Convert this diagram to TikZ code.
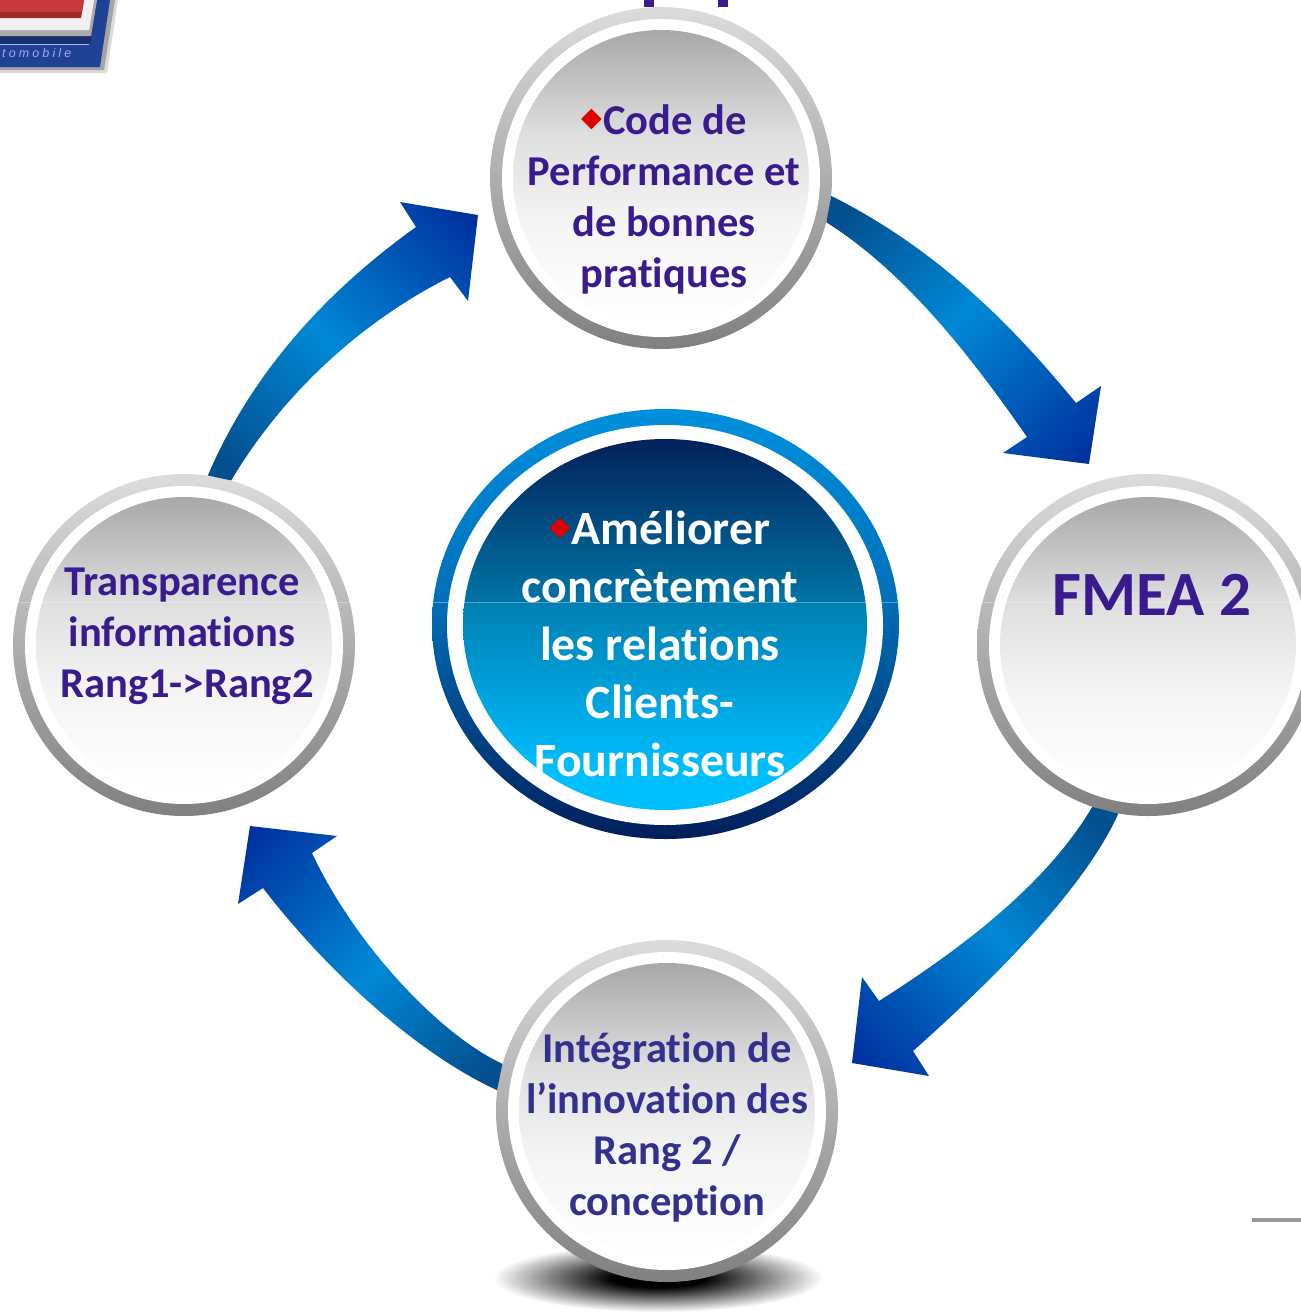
\documentclass[tikz,border=0pt]{standalone}
\usepackage{fontspec}
\setmainfont[Ligatures=NoCommon]{Carlito}
\newfontfamily\symfont{DejaVu Sans}
\newfontfamily\logofont[LetterSpace=25]{Liberation Sans}
\usetikzlibrary{shapes.geometric,calc}
\definecolor{ptxt}{HTML}{3A1A8F}
\definecolor{ptxtb}{HTML}{33308F}
\definecolor{mark}{HTML}{DD0000}
\definecolor{rt}{HTML}{DCDCDC}\definecolor{rb}{HTML}{808080}
\definecolor{s1}{HTML}{A8A8A8}\definecolor{s2}{HTML}{DEDEDE}\definecolor{s4}{HTML}{F5F5F5}
\definecolor{ar1}{HTML}{0033A0}\definecolor{ar2}{HTML}{0088D6}\definecolor{ar3}{HTML}{044F8E}
\definecolor{c1}{HTML}{0090DD}\definecolor{c2}{HTML}{006FB8}\definecolor{c3}{HTML}{001F5B}
\definecolor{d1}{HTML}{02215A}\definecolor{d2}{HTML}{0074A5}\definecolor{d3}{HTML}{0080B4}\definecolor{d4}{HTML}{00BFFF}
\definecolor{logoblue}{HTML}{1F4294}\definecolor{logonavy}{HTML}{17306F}
\definecolor{logored}{HTML}{C8393B}\definecolor{logodred}{HTML}{9E2A2A}
\pgfdeclareverticalshading{ringshade}{100bp}{color(0bp)=(rb);color(25bp)=(rb);color(75bp)=(rt);color(100bp)=(rt)}
\pgfdeclareverticalshading{sphereshade}{100bp}{color(0bp)=(white);color(25bp)=(white);color(42bp)=(s4);color(57.5bp)=(s2);color(75bp)=(s1);color(100bp)=(s1)}
\pgfdeclareverticalshading{arrowshade}{100bp}{color(0bp)=(ar1);color(18bp)=(ar1);color(52bp)=(ar2);color(81bp)=(ar3);color(100bp)=(ar3)}
\pgfdeclareverticalshading{cring}{100bp}{color(0bp)=(c3);color(25bp)=(c3);color(52.6bp)=(c2);color(75bp)=(c1);color(100bp)=(c1)}
\pgfdeclareverticalshading{cdisc}{100bp}{color(0bp)=(d4);color(30bp)=(d4);color(52.9bp)=(d3);color(53.1bp)=(d2);color(75bp)=(d1);color(100bp)=(d1)}
\pgfdeclareradialshading{groundshade}{\pgfpoint{0bp}{0bp}}{color(0bp)=(black);color(7bp)=(black);color(25bp)=(white);color(50bp)=(white)}
\newcommand\lozmark[1]{\raisebox{#1}{\fontsize{27}{27}\symfont\textcolor{mark}{◆}}\kern1.5pt}
\tikzset{
 x=1pt,y=-1pt,
 ringnode/.style={circle,inner sep=0,minimum size=342pt,shading=ringshade},
 gapnode/.style={circle,inner sep=0,minimum size=318pt,fill=white},
 spherenode/.style={circle,inner sep=0,minimum size=296pt,shading=sphereshade},
 labelnode/.style={align=center,inner sep=0,text=ptxt,font=\fontsize{42.5}{51}\selectfont\bfseries},
 bigarrow/.style={shading=arrowshade},
 seam/.style={white,opacity=.35,line width=.8pt},
}
\begin{document}
\begin{tikzpicture}
\useasboundingbox (0,0) rectangle (1301,1312);
% logo fragment
\fill[black!40,opacity=.35] (0,0) -- (118,0) -- (107,73) -- (0,73) -- cycle;
\fill[black!50,opacity=.6] (0,0) -- (115,0) -- (104,70) -- (0,70) -- cycle;
\fill[logoblue] (0,0) -- (110,0) -- (100,67) -- (0,67) -- cycle;
\fill[logonavy] (0,36) -- (92,36) -- (90,44) -- (0,44) -- cycle;
\fill[black!33] (0,0) -- (97,0) -- (91,36) -- (0,36) -- cycle;
\fill[black!6] (0,0) -- (94,0) -- (89,30) -- (0,30) -- cycle;
\fill[logodred] (0,0) -- (84,0) -- (81,18) -- (0,18) -- cycle;
\fill[logored] (0,0) -- (84,0) -- (82,12) -- (0,12) -- cycle;
\draw[blue!30!white,line width=.8pt] (0,44) -- (89,44);
\node[anchor=base west,inner sep=0,text=blue!35!white] (logotext) at (2,57) {\logofont\itshape\fontsize{12.5}{13}\selectfont tomobile};
% title descenders
\fill[ptxt] (644,0) rectangle (654,7);
\fill[ptxt] (718,0) rectangle (728,7);
% ground shadow
\shade[shading=groundshade] (658,1278) ellipse [x radius=165,y radius=34];
% outer rings
\node[ringnode] (top) at (661,178) {};
\node[ringnode] (left) at (184,645) {};
\node[ringnode] (right) at (1148,645) {};
\node[ringnode] (bottom) at (667,1111) {};
% arrows
\shade[bigarrow,shading angle=45] (top.-6) .. controls (925,243) and (1000,310) .. (1076,403) -- (1101,386) -- (1089,464) -- (1003,453) -- (1027,437) .. controls (970,355) and (905,272) .. (top.-15) -- cycle;
\shade[bigarrow,shading angle=135] (left.82) .. controls (255,365) and (335,285) .. (416,227) -- (400,202) -- (478,215) -- (468,301) -- (450,277) .. controls (360,322) and (282,395) .. (left.74) -- cycle;
\shade[bigarrow,shading angle=-45] (right.251) .. controls (1050,878) and (975,940) .. (879,1001) -- (862,977) -- (852,1063) -- (929,1076) -- (913,1051) .. controls (995,978) and (1085,888) .. (right.260) -- cycle;
\shade[bigarrow,shading angle=-135] (bottom.164) .. controls (440,1035) and (355,945) .. (312,853) -- (337,836) -- (250,826) -- (238,904) -- (263,888) .. controls (330,975) and (420,1055) .. (bottom.173) -- cycle;
% circle interiors
\foreach \n in {top,left,right,bottom}{
 \node[gapnode] (\n gap) at (\n) {};
 \node[spherenode] (\n disc) at (\n) {};
}
% centre
\node[ellipse,inner sep=0,minimum width=467pt,minimum height=430pt,shading=cring] (hubring) at (665.5,624) {};
\node[ellipse,inner sep=0,minimum width=436pt,minimum height=400pt,fill=white] (hubgap) at (665,625) {};
\node[ellipse,inner sep=0,minimum width=404pt,minimum height=371pt,shading=cdisc] (hubdisc) at (665,624.5) {};
% seams
\draw[seam] (433,602) -- (898,602);
\draw[seam] (19,602) -- (349,602);
\draw[seam] (983,602) -- (1301,602);
% labels
\node[labelnode] (toptext) at (664,199.5) {\lozmark{8pt}Code de\\Performance et\\de bonnes\\pratiques};
\node[labelnode] (lefttext) at (182,636.5) {Transparence\\informations\\\hspace*{10pt}Rang1->Rang2};
\node[labelnode,font=\fontsize{63}{70}\selectfont\bfseries] (righttext) at (1152,595) {FMEA 2};
\node[labelnode,text=ptxtb] (bottomtext) at (667,1127) {Intégration de\\l’innovation des\\Rang 2 /\\conception};
\node[labelnode,text=white,font=\fontsize{47.8}{58}\selectfont\bfseries] (hubtext) at (660,644) {\lozmark{9pt}Améliorer\\concrètement\\les relations\\Clients-\\Fournisseurs};
% stray rule at the lower right
\fill[black!40] (1252,1218) rectangle (1301,1222);
\end{tikzpicture}
\end{document}
